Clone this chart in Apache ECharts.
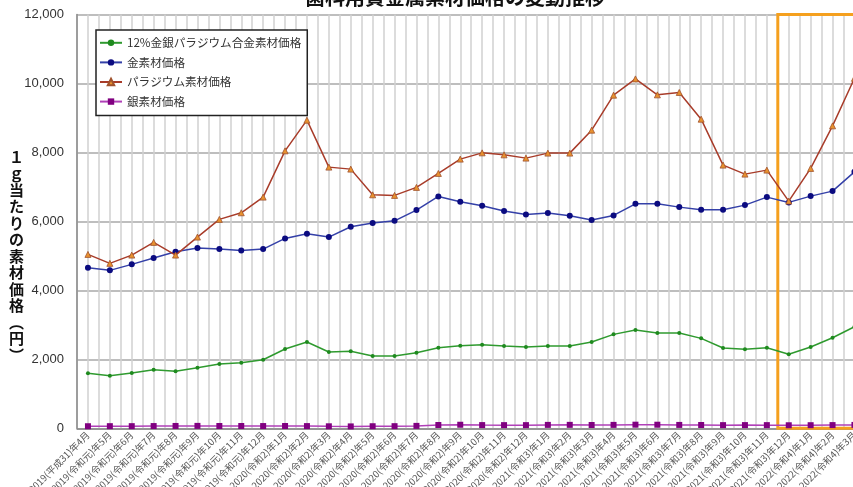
<!DOCTYPE html>
<html>
<head>
<meta charset="utf-8">
<script src="https://cdn.jsdelivr.net/npm/echarts@6/dist/echarts.min.js"></script>
<style>
  html, body { margin: 0; padding: 0; overflow: hidden; background: #fff; }
  #chart { width: 866px; height: 487px; }
</style>
</head>
<body>
<div id="chart"></div>
<script>
// Monthly categories, April 2019 – March 2022
const months = [
  '2019(平成31)年4月', '2019(令和元)年5月', '2019(令和元)年6月', '2019(令和元)年7月',
  '2019(令和元)年8月', '2019(令和元)年9月', '2019(令和元)年10月', '2019(令和元)年11月',
  '2019(令和元)年12月', '2020(令和2)年1月', '2020(令和2)年2月', '2020(令和2)年3月',
  '2020(令和2)年4月', '2020(令和2)年5月', '2020(令和2)年6月', '2020(令和2)年7月',
  '2020(令和2)年8月', '2020(令和2)年9月', '2020(令和2)年10月', '2020(令和2)年11月',
  '2020(令和2)年12月', '2021(令和3)年1月', '2021(令和3)年2月', '2021(令和3)年3月',
  '2021(令和3)年4月', '2021(令和3)年5月', '2021(令和3)年6月', '2021(令和3)年7月',
  '2021(令和3)年8月', '2021(令和3)年9月', '2021(令和3)年10月', '2021(令和3)年11月',
  '2021(令和3)年12月', '2022(令和4)年1月', '2022(令和4)年2月', '2022(令和4)年3月'
];

// Price per gram (yen)
const alloyPrice = [1594, 1525, 1603, 1699, 1652, 1757, 1864, 1901, 1988, 2299, 2501, 2212,
  2232, 2096, 2096, 2191, 2336, 2394, 2423, 2386, 2357, 2386, 2386, 2501,
  2724, 2849, 2762, 2762, 2608, 2328, 2290, 2336, 2145, 2357, 2627, 2946];
const goldPrice = [4655, 4580, 4754, 4936, 5119, 5226, 5197, 5159, 5197, 5507, 5641, 5545,
  5844, 5951, 6017, 6328, 6725, 6568, 6452, 6299, 6203, 6241, 6162, 6038,
  6174, 6510, 6510, 6414, 6336, 6336, 6472, 6704, 6551, 6733, 6878, 7438];
const palladiumPrice = [5043, 4783, 5023, 5391, 5023, 5545, 6058, 6250, 6704, 8046, 8936, 7574,
  7516, 6771, 6754, 6986, 7391, 7806, 7988, 7930, 7835, 7980, 7980, 8646,
  9661, 10133, 9670, 9739, 8965, 7632, 7371, 7487, 6588, 7536, 8771, 10150];
const silverPrice = [60, 62, 62, 65, 68, 70, 67, 66, 65, 66, 64, 58,
  55, 60, 62, 70, 95, 103, 93, 92, 92, 99, 100, 96,
  99, 105, 104, 98, 96, 92, 93, 92, 88, 90, 93, 98];

const seriesNames = ['12%金銀パラジウム合金素材価格', '金素材価格', 'パラジウム素材価格', '銀素材価格'];
const yTicks = { min: 0, max: 12000, step: 2000 };
const axisTitle = ['１', 'ｇ', '当', 'た', 'り', 'の', '素', '材', '価', '格', '︵', '円', '︶'];
const chartTitle = '歯科用貴金属素材価格の変動推移';

const FONT = '"Noto Sans CJK JP", "Liberation Sans", sans-serif';

const chart = echarts.init(document.getElementById('chart'));

chart.setOption({
  animation: false,
  backgroundColor: '#fff',
  title: {
    text: chartTitle,
    left: 300,
    top: -18,
    textStyle: { fontFamily: FONT, fontSize: 20, fontWeight: 'bold', color: '#111' }
  },
  grid: {
    left: 77, top: 14.5, width: 788.4, height: 413.8,
    containLabel: false,
    outerBoundsMode: 'none'
  },
  legend: {
    orient: 'vertical',
    left: 96,
    top: 30,
    padding: [7, 6, 8, 3],
    itemGap: 8,
    itemWidth: 22,
    itemHeight: 8,
    backgroundColor: '#fff',
    borderColor: '#222',
    borderWidth: 1.5,
    borderRadius: 0,
    textStyle: { fontFamily: FONT, fontSize: 11.6, color: '#333' },
    data: seriesNames
  },
  xAxis: [
    {
      type: 'category',
      data: months,
      boundaryGap: true,
      axisLine: { lineStyle: { color: '#888', width: 1.5 } },
      axisTick: { show: false },
      axisLabel: {
        interval: 0,
        rotate: 45,
        margin: 5,
        fontSize: 9.5,
        color: '#555',
        fontFamily: FONT
      },
      splitLine: { show: false }
    },
    {
      // helper axis: vertical grid at every half category
      type: 'value',
      min: 0,
      max: months.length * 2,
      interval: 1,
      position: 'bottom',
      axisLine: { show: false },
      axisTick: { show: false },
      axisLabel: { show: false },
      splitLine: { show: true, lineStyle: { color: '#d0d0d0', width: 1.5 } }
    }
  ],
  yAxis: {
    type: 'value',
    min: yTicks.min,
    max: yTicks.max,
    interval: yTicks.step,
    axisLine: { show: true, lineStyle: { color: '#888', width: 1.5 } },
    axisTick: { show: false },
    axisLabel: {
      margin: 13,
      fontSize: 13,
      color: '#333',
      fontFamily: '"Liberation Sans", Arial, sans-serif',
      formatter: v => v.toLocaleString('en-US')
    },
    splitLine: { lineStyle: { color: '#a9a9a9', width: 1.5 } }
  },
  graphic: [
    {
      type: 'text',
      left: 9,
      top: 149,
      z: 10,
      style: {
        text: axisTitle.join('\n'),
        font: 'bold 15px ' + FONT,
        lineHeight: 16.5,
        fill: '#111',
        align: 'center'
      }
    }
  ],
  series: [
    {
      name: seriesNames[3],
      type: 'line',
      data: silverPrice,
      symbol: 'rect',
      symbolSize: 6,
      lineStyle: { color: '#b040b8', width: 1.5 },
      itemStyle: { color: '#800080' },
      z: 3
    },
    {
      name: seriesNames[0],
      type: 'line',
      data: alloyPrice,
      symbol: 'circle',
      symbolSize: 4,
      lineStyle: { color: '#2f9a2f', width: 1.5 },
      itemStyle: { color: '#1e8a1e' },
      z: 4
    },
    {
      name: seriesNames[1],
      type: 'line',
      data: goldPrice,
      symbol: 'circle',
      symbolSize: 6,
      lineStyle: { color: '#3440a8', width: 1.5 },
      itemStyle: { color: '#0b0b80' },
      z: 5
    },
    {
      name: seriesNames[2],
      type: 'line',
      data: palladiumPrice,
      symbol: 'triangle',
      symbolSize: 6,
      lineStyle: { color: '#a83c2a', width: 1.5 },
      itemStyle: { color: '#e8912f', borderColor: '#a0522d', borderWidth: 0.8 },
      z: 6
    },
    {
      // highlight frame over the last four months
      type: 'line',
      xAxisIndex: 1,
      data: [],
      silent: true,
      markArea: {
        silent: true,
        itemStyle: { color: 'rgba(0,0,0,0)', borderColor: '#f5a01e', borderWidth: 3 },
        data: [[{ coord: [64, 12050] }, { coord: [76, -60] }]]
      },
      z: 8
    }
  ]
});
</script>
</body>
</html>
